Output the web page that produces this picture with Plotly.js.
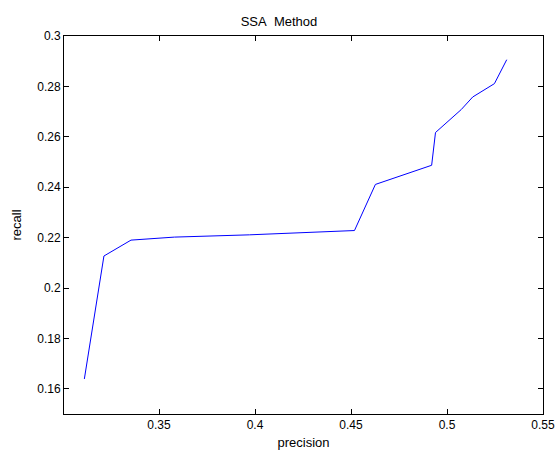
<!DOCTYPE html>
<html>
<head>
<meta charset="utf-8">
<script src="https://cdn.plot.ly/plotly-3.0.1.min.js"></script>
<style>html,body{margin:0;padding:0;background:#fff;}#chart{width:558px;height:453px;}</style>
</head>
<body>
<div id="chart"></div>
<script>
var precision = [0.3111, 0.3213, 0.3354, 0.3432, 0.3580, 0.3971, 0.4518, 0.4627, 0.4920, 0.4940, 0.5074, 0.5134, 0.5247, 0.5311];
var recall    = [0.1639, 0.2127, 0.2190, 0.2195, 0.2202, 0.2211, 0.2228, 0.2411, 0.2487, 0.2617, 0.2708, 0.2758, 0.2811, 0.2906];
var xTicks = [0.35, 0.4, 0.45, 0.5, 0.55];
var xTickText = ['0.35', '0.4', '0.45', '0.5', '0.55'];
var yTicks = [0.16, 0.18, 0.2, 0.22, 0.24, 0.26, 0.28, 0.3];
var yTickText = ['0.16', '0.18', '0.2', '0.22', '0.24', '0.26', '0.28', '0.3'];

var fam = 'Liberation Sans, Arial, sans-serif';
var font = {family: fam, size: 12, color: '#000'};
var titleFont = {family: fam, size: 13, color: '#000'};
var trace = {
  x: precision, y: recall, type: 'scatter', mode: 'lines',
  line: {color: '#0000ff', width: 1}, hoverinfo: 'none'
};
var axisCommon = {
  showline: true, linecolor: '#000', linewidth: 1, mirror: 'ticks',
  ticks: 'inside', ticklen: 5, tickcolor: '#000', tickwidth: 1,
  showgrid: false, zeroline: false, tickfont: font
};
var layout = {
  width: 558, height: 453,
  margin: {l: 64, r: 15, t: 36, b: 39},
  paper_bgcolor: '#fff', plot_bgcolor: '#fff',
  font: font,
  showlegend: false,
  title: {text: 'SSA\u00a0\u00a0Method', font: titleFont, x: 0.5, xanchor: 'center', y: 1, yref: 'paper', yanchor: 'bottom', pad: {b: 10}},
  xaxis: Object.assign({}, axisCommon, {
    range: [0.3005, 0.55], tickvals: xTicks, ticktext: xTickText,
    title: {text: 'precision', font: titleFont, standoff: 6}
  }),
  yaxis: Object.assign({}, axisCommon, {
    range: [0.15, 0.3], tickvals: yTicks, ticktext: yTickText,
    title: {text: 'recall', font: titleFont, standoff: 12}
  })
};
Plotly.newPlot('chart', [trace], layout, {staticPlot: true, displayModeBar: false});
</script>
</body>
</html>
